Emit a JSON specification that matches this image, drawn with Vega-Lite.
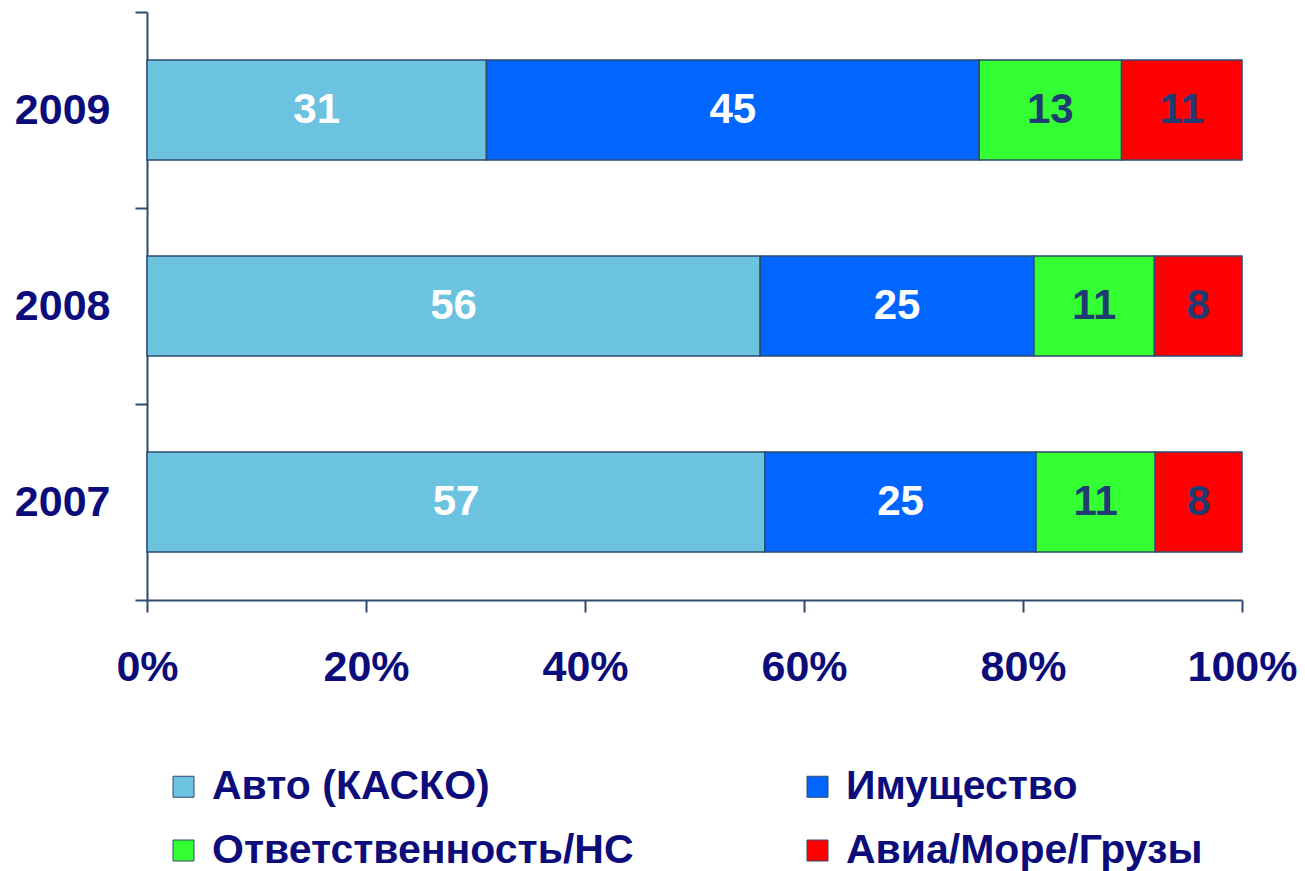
{
  "$schema": "https://vega.github.io/schema/vega-lite/v6.json",
  "width": 1095,
  "height": 588,
  "autosize": {"type": "none"},
  "padding": {"left": 147, "top": 12, "right": 63, "bottom": 271},
  "background": "white",
  "config": {
    "view": {"stroke": null},
    "font": "Liberation Sans"
  },
  "data": {
    "values": [
      {"year": "2009", "cat": "Авто (КАСКО)", "ord": 1, "value": 31},
      {"year": "2009", "cat": "Имущество", "ord": 2, "value": 45},
      {"year": "2009", "cat": "Ответственность/НС", "ord": 3, "value": 13},
      {"year": "2009", "cat": "Авиа/Море/Грузы", "ord": 4, "value": 11},
      {"year": "2008", "cat": "Авто (КАСКО)", "ord": 1, "value": 56},
      {"year": "2008", "cat": "Имущество", "ord": 2, "value": 25},
      {"year": "2008", "cat": "Ответственность/НС", "ord": 3, "value": 11},
      {"year": "2008", "cat": "Авиа/Море/Грузы", "ord": 4, "value": 8},
      {"year": "2007", "cat": "Авто (КАСКО)", "ord": 1, "value": 57},
      {"year": "2007", "cat": "Имущество", "ord": 2, "value": 25},
      {"year": "2007", "cat": "Ответственность/НС", "ord": 3, "value": 11},
      {"year": "2007", "cat": "Авиа/Море/Грузы", "ord": 4, "value": 8}
    ]
  },
  "encoding": {
    "y": {
      "field": "year",
      "type": "nominal",
      "sort": ["2009", "2008", "2007"],
      "scale": {"paddingInner": 0, "paddingOuter": 0},
      "axis": {
        "title": null,
        "tickBand": "extent",
        "tickSize": 12,
        "tickWidth": 2,
        "tickColor": "#2E4A6E",
        "domainColor": "#2E4A6E",
        "domainWidth": 2,
        "labelFont": "Liberation Sans",
        "labelFontWeight": "bold",
        "labelFontSize": 43,
        "labelColor": "#0C0C7A",
        "labelPadding": 25
      }
    },
    "x": {
      "field": "value",
      "type": "quantitative",
      "stack": "normalize",
      "axis": {
        "title": null,
        "format": ".0%",
        "values": [0, 0.2, 0.4, 0.6, 0.8, 1],
        "grid": false,
        "tickSize": 12,
        "tickWidth": 2,
        "tickColor": "#2E4A6E",
        "domainColor": "#2E4A6E",
        "domainWidth": 2,
        "labelFont": "Liberation Sans",
        "labelFontWeight": "bold",
        "labelFontSize": 43,
        "labelColor": "#0C0C7A",
        "labelPadding": 34,
        "labelFlush": false
      }
    },
    "order": {"field": "ord", "type": "quantitative"}
  },
  "layer": [
    {
      "mark": {"type": "bar", "stroke": "#2E4A6E", "strokeWidth": 1.5, "height": {"band": 0.51}},
      "encoding": {
        "color": {
          "field": "cat",
          "type": "nominal",
          "sort": ["Авто (КАСКО)", "Имущество", "Ответственность/НС", "Авиа/Море/Грузы"],
          "scale": {
            "domain": ["Авто (КАСКО)", "Имущество", "Ответственность/НС", "Авиа/Море/Грузы"],
            "range": ["#6CC3E0", "#0066FF", "#33FF33", "#FF0000"]
          },
          "legend": {
            "title": null,
            "orient": "none",
            "legendX": 16,
            "legendY": 754,
            "direction": "horizontal",
            "columns": 2,
            "symbolType": "square",
            "symbolSize": 441,
            "symbolStrokeColor": "#2E4A6E",
            "symbolStrokeWidth": 1,
            "symbolOpacity": 1,
            "labelFont": "Liberation Sans",
            "labelFontWeight": "bold",
            "labelFontSize": 41,
            "labelColor": "#0C0C7A",
            "labelOffset": 8,
            "labelLimit": 0,
            "columnPadding": 163,
            "rowPadding": 22
          }
        }
      }
    },
    {
      "mark": {"type": "text", "font": "Liberation Sans", "fontWeight": "bold", "fontSize": 42, "baseline": "middle", "align": "center"},
      "encoding": {
        "x": {"field": "value", "type": "quantitative", "stack": "normalize", "bandPosition": 0.5},
        "text": {"field": "value", "type": "quantitative"},
        "color": {
          "condition": {"test": "datum.ord <= 2", "value": "#FFFFFF"},
          "value": "#1F3B73"
        }
      }
    }
  ]
}
